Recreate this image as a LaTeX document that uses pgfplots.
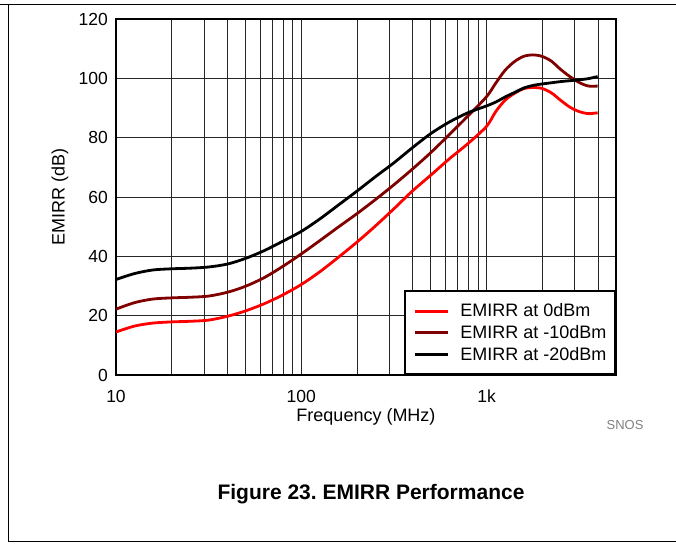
\documentclass[border=0pt]{standalone}
\usepackage{fontspec}
\setmainfont{Liberation Sans}
\usepackage{pgfplots}
\usepackage{pgfplotstable}
\pgfplotsset{compat=1.18}
\definecolor{emidark}{RGB}{128,0,0}
\definecolor{emired}{RGB}{255,0,0}
\pgfplotstableread{
f red dr blk
10 14.5 22.2 32.2
12.6 16.5 24.4 34.2
15.8 17.5 25.6 35.4
20 17.9 26.0 35.8
25 18.1 26.2 36.0
31.6 18.5 26.6 36.4
40 19.8 27.9 37.4
50 21.6 29.9 39.3
63 24.0 32.8 41.9
79 26.9 36.5 45.0
100 30.5 40.8 48.4
126 34.8 45.3 52.6
158 39.6 49.8 57.2
200 44.8 54.4 62.0
251 50.2 59.1 66.8
316 56.0 64.1 71.5
398 62.0 69.4 76.6
501 67.4 75.0 81.4
631 72.9 81.1 85.3
794 78.0 87.3 88.4
1000 83.8 93.8 90.7
1122 88.8 98.4 92.0
1259 92.6 102.7 93.7
1413 94.9 105.6 95.2
1585 96.5 107.4 96.7
1778 96.9 107.9 97.6
1995 96.6 107.4 98.1
2239 95.1 105.8 98.5
2512 92.6 103.0 98.9
2818 90.3 100.6 99.2
3162 88.8 98.6 99.5
3548 88.1 97.4 99.9
3981 88.4 97.4 100.6
}\tbl
\begin{document}
\begin{tikzpicture}
\useasboundingbox (0,0) rectangle (676bp,544bp);
\draw[line width=1bp] (0,539bp) -- (676bp,539bp);
\draw[line width=1bp] (8bp,539bp) -- (8bp,2bp) -- (676bp,2bp);
\begin{axis}[
  at={(116bp,169bp)}, anchor=south west,
  scale only axis, width=500bp, height=356bp,
  xmode=log, xmin=10, xmax=5000, ymin=0, ymax=120,
  ytick={0,20,40,60,80,100,120},
  xtick={10,100,1000}, xticklabels={10,100,1k},
  minor xtick={20,30,40,50,60,70,80,90,200,300,400,500,600,700,800,900,2000,3000,4000},
  xmajorgrids=true, xminorgrids=true, ymajorgrids=true,
  grid style={black!85, line width=0.9bp},
  minor grid style={black!85, line width=0.9bp},
  major tick length=0pt, minor tick length=0pt,
  axis line style={line width=2.5bp},
  tick label style={font=\fontsize{17.5bp}{20bp}\selectfont},
  /pgf/number format/assume math mode=true,
  xticklabel style={anchor=center, yshift=-21bp},
  yticklabel style={anchor=east, inner sep=0pt, xshift=-8bp},
  xlabel={Frequency (MHz)}, ylabel={EMIRR (dB)},
  label style={font=\fontsize{18bp}{21bp}\selectfont},
  xlabel style={at={(axis description cs:0.5,-0.118)}, anchor=center},
  ylabel style={at={(axis description cs:-0.112,0.5)}, anchor=center},
  legend cell align=left,
  legend style={at={(1,0)}, anchor=south east, draw=black, line width=2bp, fill=white,
    inner xsep=8.5bp, inner ysep=12.5bp, row sep=7bp, column sep=11bp,
    font=\fontsize{18bp}{21bp}\selectfont, nodes={inner sep=0pt}},
  legend image code/.code={\draw[#1] (0bp,0bp) -- (33bp,0bp);},
]
\addplot[emired, line width=2.8bp, smooth, mark=none] table[x=f,y=red] {\tbl};
\addlegendentry{EMIRR at 0dBm}
\addplot[emidark, line width=2.8bp, smooth, mark=none] table[x=f,y=dr] {\tbl};
\addlegendentry{EMIRR at -10dBm}
\addplot[black, line width=2.8bp, smooth, mark=none] table[x=f,y=blk] {\tbl};
\addlegendentry{EMIRR at -20dBm}
\end{axis}
\node[font=\bfseries\fontsize{21bp}{25bp}\selectfont] at (371bp,50bp) {Figure 23.\ EMIRR Performance};
\node[text=black!50, font=\fontsize{13bp}{15bp}\selectfont] at (625bp,119bp) {SNOS};
\end{tikzpicture}
\end{document}
